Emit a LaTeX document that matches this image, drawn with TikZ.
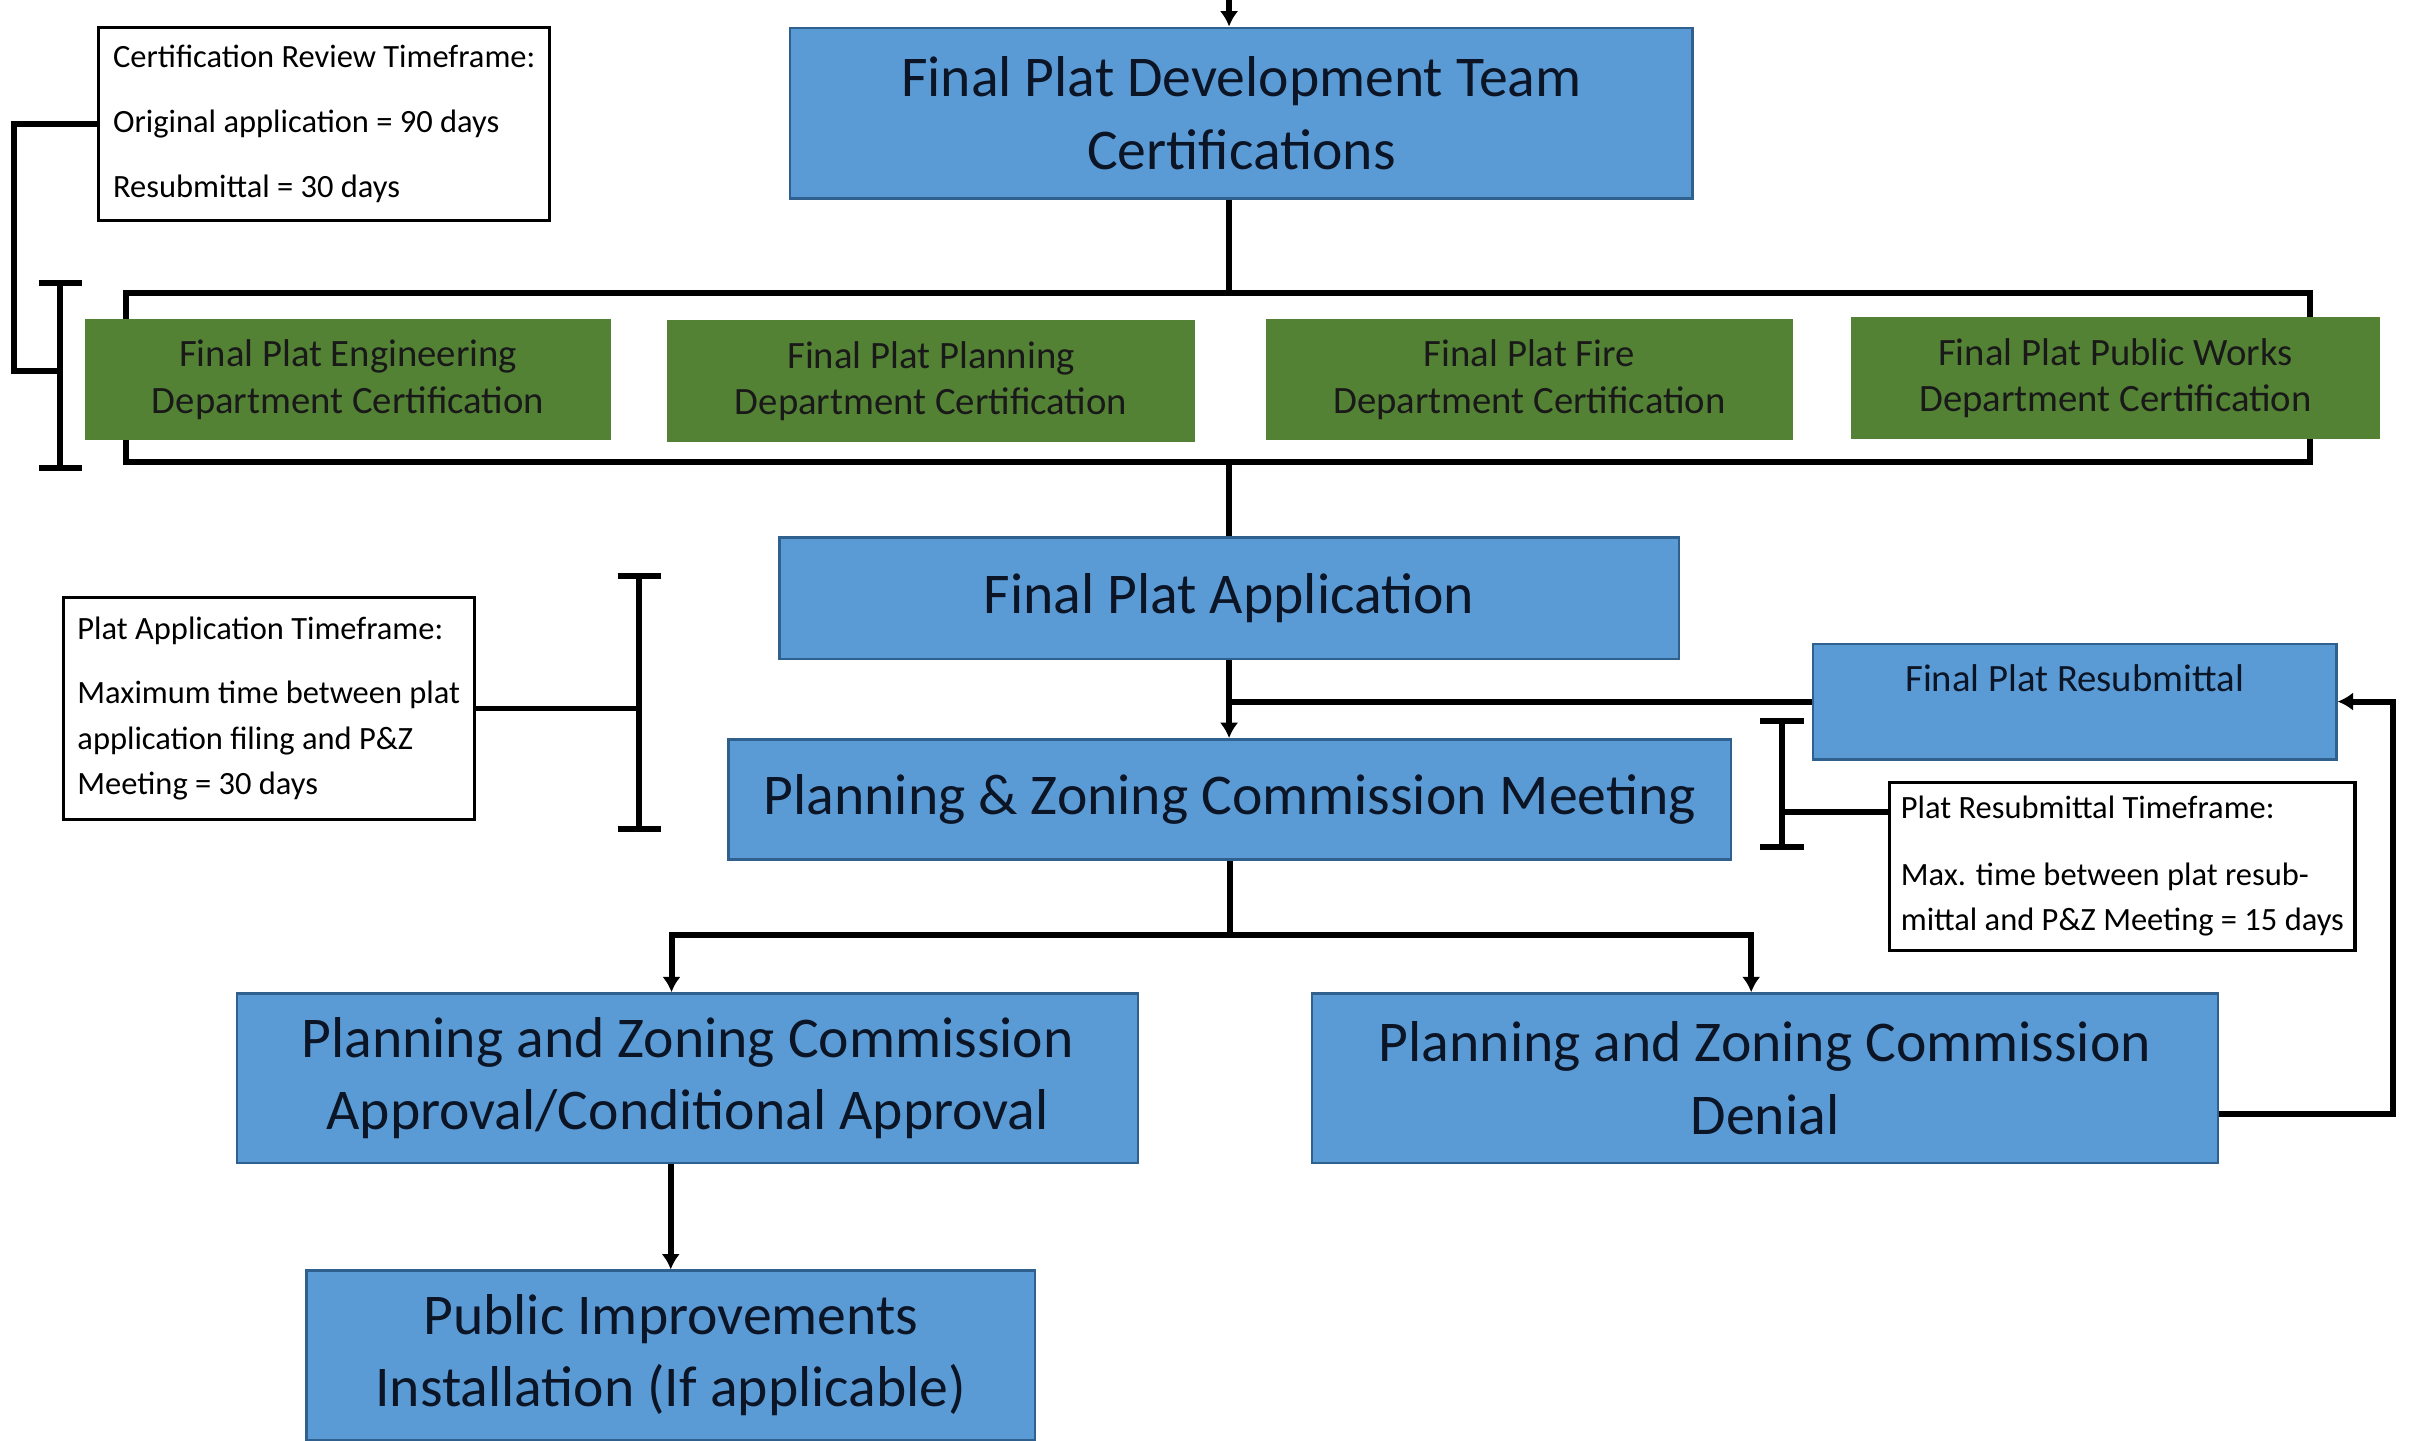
\documentclass[tikz,border=0pt]{standalone}
\usepackage{fontspec}
\setmainfont{Carlito}
\usetikzlibrary{arrows.meta}
\definecolor{boxblue}{HTML}{5B9BD5}
\definecolor{boxedge}{HTML}{30608E}
\definecolor{certgreen}{HTML}{548235}
\definecolor{ink}{HTML}{0B1526}
\begin{document}
\begin{tikzpicture}[x=0.2mm,y=-0.2mm,line join=miter,>={Latex[length=2mm,width=2.4mm]},line width=2.2pt]
\def\pu{0.2mm}
\tikzset{every node/.style={inner sep=0pt,align=center},
  flowbox/.style={draw=boxedge,line width=0.9pt,fill=boxblue,text=ink,font=\fontsize{21.3}{26.7}\selectfont},
  certbox/.style={fill=certgreen,text=black!90,minimum width=342*\pu,minimum height=79*\pu,font=\fontsize{14.3}{17.1}\selectfont},
  notebox/.style={draw,line width=1.2pt,fill=white,align=left,font=\fontsize{12}{16.8}\selectfont}}
\useasboundingbox (0,0) rectangle (1568,935);
\coordinate (spine) at (798,0);

% certifications
\node[flowbox,minimum width=586*\pu,minimum height=111*\pu] (devteam) at (806,73.5) {Final Plat Development Team\\Certifications};
\node[draw,minimum width=1418*\pu,minimum height=110*\pu] (certgroup) at (791,245) {};
\node[certbox] (eng) at (226,246.5) {Final Plat Engineering\\Department Certification};
\node[certbox,minimum width=343*\pu] (plan) at (604.5,247.5) {Final Plat Planning\\Department Certification};
\node[certbox] (fire) at (993,246.5) {Final Plat Fire\\Department Certification};
\node[certbox,minimum width=343*\pu] (works) at (1373.5,245.5) {Final Plat Public Works\\Department Certification};
\node[notebox,minimum width=293*\pu,minimum height=125*\pu] (certnote) at (210.5,80.5)
  {Certification Review Timeframe:\\[7.1pt]Original application = 90 days\\[7.1pt]Resubmittal = 30 days};

% application and meeting
\node[flowbox,minimum width=584*\pu,minimum height=79*\pu] (app) at (798,388.5) {Final Plat Application};
\node[flowbox,minimum width=651*\pu,minimum height=78*\pu] (pzm) at (798.5,519) {Planning \& Zoning Commission Meeting};
\node[flowbox,minimum width=340*\pu,minimum height=75*\pu,font=\fontsize{14.3}{17.1}\selectfont] (resub) at (1347,455.5) {Final Plat Resubmittal\\\phantom{X}};
\node[notebox,minimum width=267*\pu,minimum height=144*\pu] (appnote) at (174.5,460)
  {Plat Application Timeframe:\\[7.1pt]Maximum time between plat\\application filing and P\&Z\\Meeting = 30 days};
\node[notebox,minimum width=302*\pu,minimum height=109*\pu] (resubnote) at (1378,562.5)
  {Plat Resubmittal Timeframe:\\[7.7pt]Max. time between plat resub-\\mittal and P\&Z Meeting = 15 days};

% outcomes
\node[flowbox,minimum width=585*\pu,minimum height=110*\pu] (approve) at (446.5,700) {Planning and Zoning Commission\\Approval/Conditional Approval};
\node[flowbox,minimum width=588*\pu,minimum height=110*\pu] (deny) at (1146,700) {Planning and Zoning Commission\\Denial};
\node[flowbox,minimum width=473*\pu,minimum height=110*\pu] (pubimp) at (435.5,880) {Public Improvements\\Installation (If applicable)};

% timeframe brackets
\foreach \bx/\btop/\bbot in {39/184/304,415/374/538,1157/468/550}
  \draw (\bx-14,\btop) -- (\bx+14,\btop) (\bx,\btop) -- (\bx,\bbot) (\bx-14,\bbot) -- (\bx+14,\bbot);
\coordinate (cbar) at (39,241);
\coordinate (abar) at (415,460);
\coordinate (rbar) at (1157,527);
\draw (certnote.west) -- ++(-54,0) |- (cbar);
\draw (appnote.east) -- (abar);
\draw (rbar) -- (rbar -| resubnote.west);

% flow lines
\draw[->] (spine) -- (spine |- devteam.north);
\draw (spine |- devteam.south) -- (spine |- certgroup.north);
\draw (spine |- certgroup.south) -- (spine |- app.north);
\draw[->] (spine |- app.south) -- (spine |- pzm.north);
\draw (resub.west) -- (resub.west -| spine);
\draw (pzm.south) -- ++(0,48) coordinate (split);
\draw[->] (split) -| ([xshift=-2.1mm]approve.north);
\draw[->] (split) -| ([xshift=-1.8mm]deny.north);
\draw[->] (approve.south -| pubimp.north) -- (pubimp.north);
\draw[->] ([yshift=-4.6mm]deny.east) -- ++(113,0) |- (resub.east);
\draw (pubimp.south) -- ++(0,10);
\end{tikzpicture}
\end{document}
